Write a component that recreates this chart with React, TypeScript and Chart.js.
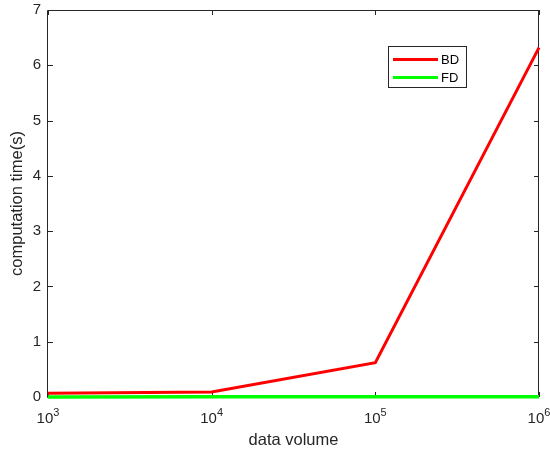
import React, { useEffect, useRef } from "react";
import { Chart, registerables } from "chart.js";
Chart.register(...registerables);

const xValues = [1e3, 1e4, 1e5, 1e6];
const bdValues = [0.07, 0.09, 0.62, 6.32];
const fdValues = [0.002, 0.003, 0.004, 0.006];
const xTicks = [1e3, 1e4, 1e5, 1e6];
const xTickBase = ["10", "10", "10", "10"];
const xTickExp = ["3", "4", "5", "6"];
const yTicks = [0, 1, 2, 3, 4, 5, 6, 7];
const seriesNames = ["BD", "FD"];
const seriesColors = ["#ff0000", "#00ff00"];

const FONT = "'Liberation Sans', Arial, Helvetica, sans-serif";
const AX = "#262626";

const matlabPlugin = {
  id: "matlabBox",
  beforeDatasetsDraw(chart: any) {
    const { ctx, chartArea } = chart;
    const { left, right, top, bottom } = chartArea;
    const xs = chart.scales.x;
    const ys = chart.scales.y;
    ctx.save();
    ctx.strokeStyle = AX;
    ctx.lineWidth = 1;
    ctx.beginPath();
    ctx.rect(Math.round(left) - 0.5, Math.round(top) + 0.5, Math.round(right - left), Math.round(bottom - top));
    ctx.stroke();
    const tl = 5;
    ctx.beginPath();
    yTicks.forEach((v) => {
      const y = Math.round(ys.getPixelForValue(v)) + 0.5;
      ctx.moveTo(left, y);
      ctx.lineTo(left + tl, y);
      ctx.moveTo(right, y);
      ctx.lineTo(right - tl, y);
    });
    xTicks.forEach((v) => {
      const x = Math.round(xs.getPixelForValue(v)) + 0.5;
      ctx.moveTo(x, bottom);
      ctx.lineTo(x, bottom - tl);
      ctx.moveTo(x, top);
      ctx.lineTo(x, top + tl);
    });
    ctx.stroke();
    // x tick labels with superscripts
    ctx.fillStyle = AX;
    ctx.textBaseline = "alphabetic";
    xTicks.forEach((v, i) => {
      const x = xs.getPixelForValue(v);
      ctx.font = `15px ${FONT}`;
      const bw = ctx.measureText(xTickBase[i]).width;
      ctx.font = `11px ${FONT}`;
      const ew = ctx.measureText(xTickExp[i]).width;
      const total = bw + ew;
      const x0 = x - total / 2;
      const base = bottom + 26;
      ctx.font = `15px ${FONT}`;
      ctx.textAlign = "left";
      ctx.fillText(xTickBase[i], x0, base);
      ctx.font = `11px ${FONT}`;
      ctx.fillText(xTickExp[i], x0 + bw, base - 7);
    });
    ctx.restore();
  },
  afterDraw(chart: any) {
    const { ctx } = chart;
    const bx = 388.5, by = 46.5, bw = 78, bh = 41;
    ctx.save();
    ctx.fillStyle = "#ffffff";
    ctx.fillRect(bx, by, bw, bh);
    ctx.strokeStyle = AX;
    ctx.lineWidth = 1;
    ctx.strokeRect(bx, by, bw, bh);
    const rows = [59.5, 77.5];
    chart.data.datasets.forEach((ds: any, i: number) => {
      ctx.strokeStyle = ds.borderColor;
      ctx.lineWidth = 3;
      ctx.beginPath();
      ctx.moveTo(393, rows[i]);
      ctx.lineTo(438, rows[i]);
      ctx.stroke();
      ctx.fillStyle = "#000000";
      ctx.font = `13px ${FONT}`;
      ctx.textAlign = "left";
      ctx.textBaseline = "middle";
      ctx.fillText(ds.label, 441, rows[i] + 0.5);
    });
    ctx.restore();
  },
};

export default function App() {
  const ref = useRef<HTMLCanvasElement | null>(null);
  useEffect(() => {
    if (!ref.current) return;
    const chart = new Chart(ref.current, {
      type: "line",
      data: {
        datasets: [
          {
            label: seriesNames[0],
            data: xValues.map((x, i) => ({ x, y: bdValues[i] })),
            borderColor: seriesColors[0],
            backgroundColor: seriesColors[0],
            borderWidth: 3,
            pointRadius: 0,
            tension: 0,
            clip: 4,
          },
          {
            label: seriesNames[1],
            data: xValues.map((x, i) => ({ x, y: fdValues[i] })),
            borderColor: seriesColors[1],
            backgroundColor: seriesColors[1],
            borderWidth: 3.5,
            pointRadius: 0,
            tension: 0,
            clip: 4,
          },
        ],
      },
      options: {
        responsive: false,
        animation: false,
        layout: { padding: { left: 0, top: 10, right: 11, bottom: 0 } },
        plugins: {
          legend: { display: false },
          tooltip: { enabled: false },
        },
        scales: {
          x: {
            type: "logarithmic",
            min: 1e3,
            max: 1e6,
            afterBuildTicks: (scale: any) => {
              scale.ticks = xTicks.map((v) => ({ value: v }));
            },
            afterFit: (scale: any) => {
              scale.height = 59;
              scale.paddingLeft = 0;
              scale.paddingRight = 0;
            },
            grid: { display: false, drawTicks: false },
            border: { display: false },
            ticks: { display: false },
            title: {
              display: true,
              text: "data volume",
              color: AX,
              font: { family: FONT, size: 16.5 },
              padding: { top: 0, bottom: 6 },
            },
          },
          y: {
            type: "linear",
            min: 0,
            max: 7,
            afterBuildTicks: (scale: any) => {
              scale.ticks = yTicks.map((v) => ({ value: v }));
            },
            afterFit: (scale: any) => {
              scale.width = 48;
              scale.paddingTop = 0;
              scale.paddingBottom = 0;
            },
            grid: { display: false, drawTicks: false },
            border: { display: false },
            ticks: {
              color: AX,
              font: { family: FONT, size: 15 },
              padding: 7,
              callback: (v: any) => String(v),
            },
            title: {
              display: true,
              text: "computation time(s)",
              color: AX,
              font: { family: FONT, size: 16.5 },
              padding: { top: 8, bottom: 0 },
            },
          },
        },
      },
      plugins: [matlabPlugin],
    } as any);
    return () => chart.destroy();
  }, []);
  return (
    <div style={{ position: "absolute", left: 0, top: 0, width: 550, height: 456, background: "#fff" }}>
      <canvas ref={ref} width={550} height={456} style={{ display: "block" }} />
    </div>
  );
}
